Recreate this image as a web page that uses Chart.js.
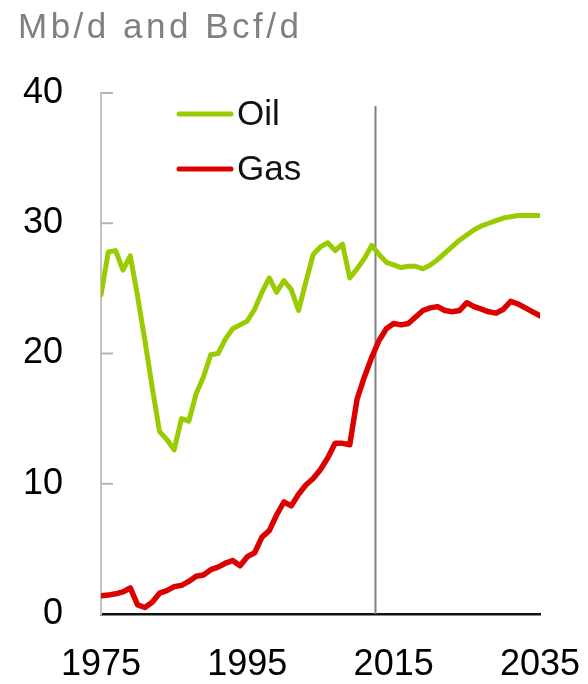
<!DOCTYPE html>
<html>
<head>
<meta charset="utf-8">
<script src="https://cdn.jsdelivr.net/npm/chart.js@4.4.1/dist/chart.umd.min.js"></script>
<style>
  html, body { margin: 0; padding: 0; background: #fff; }
  #wrap { width: 588px; height: 684px; }
</style>
</head>
<body>
<div id="wrap"><canvas id="chart" width="588" height="684"></canvas></div>
<script>
const years = [
  1975, 1976, 1977, 1978, 1979, 1980, 1981, 1982, 1983, 1984,
  1985, 1986, 1987, 1988, 1989, 1990, 1991, 1992, 1993, 1994,
  1995, 1996, 1997, 1998, 1999, 2000, 2001, 2002, 2003, 2004,
  2005, 2006, 2007, 2008, 2009, 2010, 2011, 2012, 2013, 2014,
  2015, 2016, 2017, 2018, 2019, 2020, 2021, 2022, 2023, 2024,
  2025, 2026, 2027, 2028, 2029, 2030, 2031, 2032, 2033, 2034, 2035
];
const oil = [
  24.5, 27.8, 27.9, 26.4, 27.5, 24.4, 21.0, 17.4, 14.0, 13.4,
  12.6, 15.0, 14.8, 16.9, 18.2, 19.9, 20.0, 21.1, 21.9, 22.2,
  22.5, 23.4, 24.7, 25.8, 24.7, 25.6, 24.9, 23.3, 25.5, 27.6,
  28.2, 28.5, 27.9, 28.4, 25.8, 26.5, 27.3, 28.3, 27.6, 27.0,
  26.8, 26.6, 26.7, 26.7, 26.5, 26.8, 27.2, 27.7, 28.2, 28.7,
  29.1, 29.5, 29.8, 30.0, 30.2, 30.4, 30.5, 30.6, 30.6, 30.6, 30.6
];
const gas = [
  1.4, 1.45, 1.55, 1.7, 2.0, 0.7, 0.5, 0.9, 1.6, 1.8,
  2.1, 2.2, 2.5, 2.9, 3.0, 3.4, 3.6, 3.9, 4.1, 3.7,
  4.4, 4.7, 5.9, 6.4, 7.6, 8.6, 8.3, 9.2, 9.9, 10.4,
  11.1, 12.0, 13.1, 13.1, 13.0, 16.5, 18.2, 19.7, 21.0, 21.9,
  22.3, 22.2, 22.3, 22.8, 23.3, 23.5, 23.6, 23.3, 23.2, 23.3,
  23.9, 23.6, 23.4, 23.2, 23.1, 23.4, 24.0, 23.8, 23.5, 23.2, 22.9
];
const xTicks = [1975, 1995, 2015, 2035];
const yTicks = [0, 10, 20, 30, 40];
const historyEnd = 2012.4;
const unitTitle = 'Mb/d and Bcf/d';

const FONT = '"Liberation Sans", Arial, sans-serif';

// title, legend, inner y ticks and the history/projection divider
const decor = {
  id: 'decor',
  beforeDatasetsDraw(chart) {
    const { ctx, scales: { x, y } } = chart;
    ctx.save();
    ctx.strokeStyle = '#b4b4b4';
    ctx.lineWidth = 2;
    yTicks.slice(1).forEach(v => {
      const py = y.getPixelForValue(v);
      ctx.beginPath();
      ctx.moveTo(x.left, py);
      ctx.lineTo(x.left + 12, py);
      ctx.stroke();
    });
    const px = Math.round(x.getPixelForValue(historyEnd)) + 0.5;
    ctx.strokeStyle = '#808080';
    ctx.lineWidth = 2;
    ctx.beginPath();
    ctx.moveTo(px, y.getPixelForValue(39));
    ctx.lineTo(px, y.getPixelForValue(0));
    ctx.stroke();
    ctx.restore();
  },
  afterDraw(chart) {
    const { ctx } = chart;
    ctx.save();
    ctx.font = '35px ' + FONT;
    ctx.fillStyle = '#808080';
    ctx.textBaseline = 'alphabetic';
    ctx.letterSpacing = '3.5px';
    ctx.fillText(unitTitle, 18, 38);
    ctx.letterSpacing = '0px';

    const rows = [114, 169];
    chart.data.datasets.forEach((ds, i) => {
      const ly = rows[i];
      ctx.strokeStyle = ds.borderColor;
      ctx.lineWidth = 5;
      ctx.lineCap = 'round';
      ctx.beginPath();
      ctx.moveTo(179, ly);
      ctx.lineTo(231, ly);
      ctx.stroke();
      ctx.fillStyle = '#111';
      ctx.font = '35px ' + FONT;
      ctx.textBaseline = 'middle';
      ctx.fillText(ds.label, 237, ly + 1);
    });
    ctx.restore();
  }
};

new Chart(document.getElementById('chart'), {
  type: 'line',
  data: {
    datasets: [
      {
        label: 'Oil',
        data: years.map((yr, i) => ({ x: yr, y: oil[i] })),
        borderColor: '#99CC00',
        borderWidth: 5,
        pointRadius: 0,
        borderJoinStyle: 'round',
        borderCapStyle: 'round',
        tension: 0
      },
      {
        label: 'Gas',
        data: years.map((yr, i) => ({ x: yr, y: gas[i] })),
        borderColor: '#DD0000',
        borderWidth: 5.5,
        pointRadius: 0,
        borderJoinStyle: 'round',
        borderCapStyle: 'round',
        tension: 0
      }
    ]
  },
  options: {
    responsive: false,
    animation: false,
    layout: { padding: { top: 93, right: 48, left: 0, bottom: 0 } },
    plugins: { legend: { display: false }, title: { display: false }, tooltip: { enabled: false } },
    scales: {
      x: {
        type: 'linear',
        min: 1975,
        max: 2035,
        afterBuildTicks: s => { s.ticks = xTicks.map(v => ({ value: v })); },
        afterFit: s => { s.height = 70; s.paddingLeft = 0; s.paddingRight = 0; },
        grid: { drawOnChartArea: false, drawTicks: false },
        border: { display: true, color: '#111', width: 2.5 },
        ticks: {
          padding: 29,
          color: '#000',
          font: { family: FONT, size: 36 },
          maxRotation: 0,
          callback: v => String(v)
        }
      },
      y: {
        min: 0,
        max: 40,
        afterBuildTicks: s => { s.ticks = yTicks.map(v => ({ value: v })); },
        afterFit: s => { s.width = 101; },
        grid: { drawOnChartArea: false, drawTicks: false },
        border: { display: true, color: '#c4c4c4', width: 2 },
        ticks: {
          padding: 38,
          color: '#000',
          font: { family: FONT, size: 36 }
        }
      }
    }
  },
  plugins: [decor]
});
</script>
</body>
</html>
